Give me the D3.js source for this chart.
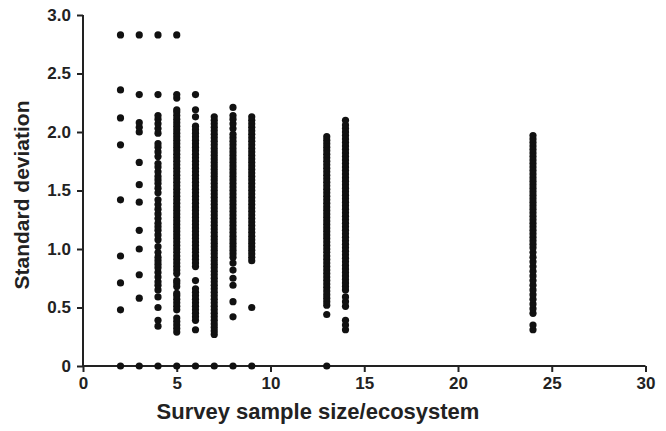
<!DOCTYPE html>
<html>
<head>
<meta charset="utf-8">
<script src="https://cdn.jsdelivr.net/npm/d3@7/dist/d3.min.js"></script>
<style>
  html, body { margin: 0; padding: 0; background: #fff; }
  svg { display: block; font-family: "Liberation Sans", Arial, Helvetica, sans-serif; }
  .axis path, .axis line { stroke: #222; stroke-width: 2; }
  .axis text { font-size: 17px; font-weight: bold; fill: #222; }
  .title { font-weight: bold; fill: #222; }
</style>
</head>
<body>
<svg id="chart" width="666" height="431"></svg>
<script>
/* SD of survey scores vs. sample size per ecosystem — one dot column per n. */

const xTicks = [0, 5, 10, 15, 20, 25, 30];
const yTicks = [0, 0.5, 1.0, 1.5, 2.0, 2.5, 3.0];

// standard deviations, one array per sample size
const sdN2 = [0, 0.48, 0.71, 0.94, 1.42, 1.89, 2.12, 2.36, 2.83];
const sdN3 = [0, 0.58, 0.78, 1.00, 1.16, 1.40, 1.55, 1.74, 2.00, 2.04, 2.08, 2.32, 2.83];
const sdN4 = [0, 0.34, 0.39, 0.50, 0.59, 0.65, 0.69, 0.72, 0.76, 0.80, 0.84, 0.87, 0.90,
  0.93, 0.97, 1.02, 1.08, 1.12, 1.16, 1.19, 1.22, 1.26, 1.30, 1.34, 1.38, 1.42, 1.48,
  1.52, 1.56, 1.59, 1.62, 1.66, 1.70, 1.73, 1.79, 1.83, 1.87, 1.90, 1.99, 2.03, 2.07,
  2.11, 2.14, 2.32, 2.83];
const sdN5 = [0, 0.29, 0.32, 0.35, 0.38, 0.41, 0.48, 0.51, 0.54, 0.57, 0.60, 0.62, 0.68,
  0.71, 0.73, 0.79, 0.82, 0.85, 0.88, 0.91, 0.94, 0.97, 1.00, 1.03, 1.06, 1.09, 1.12,
  1.15, 1.18, 1.21, 1.24, 1.27, 1.30, 1.33, 1.36, 1.39, 1.42, 1.45, 1.48, 1.51, 1.54,
  1.57, 1.60, 1.63, 1.66, 1.69, 1.72, 1.75, 1.78, 1.81, 1.84, 1.87, 1.90, 1.93, 1.96,
  1.99, 2.02, 2.05, 2.08, 2.11, 2.14, 2.17, 2.19, 2.29, 2.32, 2.83];
const sdN6 = [0, 0.31, 0.39, 0.42, 0.45, 0.48, 0.51, 0.54, 0.57, 0.60, 0.63, 0.66, 0.73,
  0.85, 0.88, 0.91, 0.94, 0.97, 1.00, 1.03, 1.06, 1.09, 1.12, 1.15, 1.18, 1.21, 1.24,
  1.27, 1.30, 1.33, 1.36, 1.39, 1.42, 1.45, 1.48, 1.51, 1.54, 1.57, 1.60, 1.63, 1.66,
  1.69, 1.72, 1.75, 1.78, 1.81, 1.84, 1.87, 1.90, 1.93, 1.96, 1.99, 2.02, 2.05, 2.13,
  2.19, 2.32];
const sdN7 = [0, 0.27, 0.30, 0.33, 0.36, 0.39, 0.42, 0.45, 0.48, 0.51, 0.54, 0.57, 0.60,
  0.63, 0.66, 0.69, 0.72, 0.75, 0.78, 0.81, 0.84, 0.87, 0.90, 0.93, 0.96, 0.99, 1.02,
  1.05, 1.08, 1.11, 1.14, 1.17, 1.20, 1.23, 1.26, 1.29, 1.32, 1.35, 1.38, 1.41, 1.44,
  1.47, 1.50, 1.53, 1.56, 1.59, 1.62, 1.65, 1.68, 1.71, 1.74, 1.77, 1.80, 1.83, 1.86,
  1.89, 1.92, 1.95, 1.98, 2.01, 2.04, 2.07, 2.10, 2.13];
const sdN8 = [0, 0.42, 0.55, 0.69, 0.75, 0.82, 0.88, 0.93, 0.96, 0.99, 1.02, 1.05, 1.08,
  1.11, 1.14, 1.17, 1.20, 1.23, 1.26, 1.29, 1.32, 1.35, 1.38, 1.41, 1.44, 1.47, 1.50,
  1.53, 1.56, 1.59, 1.62, 1.65, 1.68, 1.71, 1.74, 1.77, 1.80, 1.83, 1.86, 1.89, 1.92,
  1.95, 1.98, 2.03, 2.07, 2.11, 2.14, 2.21];
const sdN9 = [0, 0.50, 0.90, 0.93, 0.96, 0.99, 1.02, 1.05, 1.08, 1.11, 1.14, 1.17, 1.20,
  1.23, 1.26, 1.29, 1.32, 1.35, 1.38, 1.41, 1.44, 1.47, 1.50, 1.53, 1.56, 1.59, 1.62,
  1.65, 1.68, 1.71, 1.74, 1.77, 1.80, 1.83, 1.86, 1.89, 1.92, 1.95, 1.98, 2.01, 2.04,
  2.07, 2.10, 2.13];
const sdN13 = [0, 0.44, 0.52, 0.55, 0.58, 0.61, 0.64, 0.67, 0.70, 0.73, 0.76, 0.79, 0.82,
  0.85, 0.88, 0.91, 0.94, 0.97, 1.00, 1.03, 1.06, 1.09, 1.12, 1.15, 1.18, 1.21, 1.24,
  1.27, 1.30, 1.33, 1.36, 1.39, 1.42, 1.45, 1.48, 1.51, 1.54, 1.57, 1.60, 1.63, 1.66,
  1.69, 1.72, 1.75, 1.78, 1.81, 1.84, 1.87, 1.90, 1.93, 1.96];
const sdN14 = [0.31, 0.35, 0.39, 0.51, 0.55, 0.59, 0.65, 0.68, 0.71, 0.74, 0.77, 0.80,
  0.83, 0.86, 0.89, 0.92, 0.95, 0.98, 1.01, 1.04, 1.07, 1.10, 1.13, 1.16, 1.19, 1.22,
  1.25, 1.28, 1.31, 1.34, 1.37, 1.40, 1.43, 1.46, 1.49, 1.52, 1.55, 1.58, 1.61, 1.64,
  1.67, 1.70, 1.73, 1.76, 1.79, 1.82, 1.85, 1.88, 1.91, 1.94, 1.97, 2.00, 2.03, 2.06,
  2.10];
const sdN24 = [0.31, 0.35, 0.45, 0.49, 0.53, 0.57, 0.61, 0.65, 0.69, 0.73, 0.77, 0.81,
  0.85, 0.89, 0.93, 0.97, 1.01, 1.04, 1.07, 1.10, 1.13, 1.16, 1.19, 1.22, 1.25, 1.28,
  1.31, 1.34, 1.37, 1.40, 1.43, 1.46, 1.49, 1.52, 1.55, 1.58, 1.61, 1.64, 1.67, 1.70,
  1.73, 1.76, 1.79, 1.82, 1.85, 1.88, 1.91, 1.94, 1.97];

const sampleSizes = [2, 3, 4, 5, 6, 7, 8, 9, 13, 14, 24];
const sdColumns = [sdN2, sdN3, sdN4, sdN5, sdN6, sdN7, sdN8, sdN9, sdN13, sdN14, sdN24];

const points = [];
sampleSizes.forEach((n, i) => sdColumns[i].forEach(sd => points.push({ n, sd })));

/* ---- scales & axes ------------------------------------------------------- */
const svg = d3.select('#chart');
const x = d3.scaleLinear().domain([0, 30]).range([83, 645.5]);
const y = d3.scaleLinear().domain([0, 3]).range([366, 15]);

svg.append('g')
  .attr('class', 'axis')
  .attr('transform', `translate(0,${y(0)})`)
  .call(d3.axisBottom(x).tickValues(xTicks).tickSize(6).tickPadding(5).tickFormat(d3.format('d')))
  .call(g => g.select('.domain').attr('d', `M${x(0)},0H${x(30)}`));

svg.append('g')
  .attr('class', 'axis')
  .attr('transform', `translate(${x(0)},0)`)
  .call(d3.axisLeft(y).tickValues(yTicks).tickSize(6).tickPadding(6)
    .tickFormat(d => d === 0 ? '0' : d3.format('.1f')(d)))
  .call(g => g.select('.domain').attr('d', `M0,${y(3)}V${y(0)}`));

svg.selectAll('.axis').attr('font-size', null).attr('font-family', null);

/* ---- dots ---------------------------------------------------------------- */
svg.append('g')
  .selectAll('circle')
  .data(points)
  .join('circle')
  .attr('cx', d => x(d.n))
  .attr('cy', d => y(d.sd))
  .attr('r', 3.6)
  .attr('fill', '#111');

/* ---- titles -------------------------------------------------------------- */
svg.append('text')
  .attr('class', 'title')
  .attr('x', 318)
  .attr('y', 419)
  .attr('font-size', 22)
  .attr('text-anchor', 'middle')
  .text('Survey sample size/ecosystem');

svg.append('text')
  .attr('class', 'title')
  .attr('font-size', 21)
  .attr('transform', 'translate(29,195) rotate(-90)')
  .attr('text-anchor', 'middle')
  .text('Standard deviation');
</script>
</body>
</html>
